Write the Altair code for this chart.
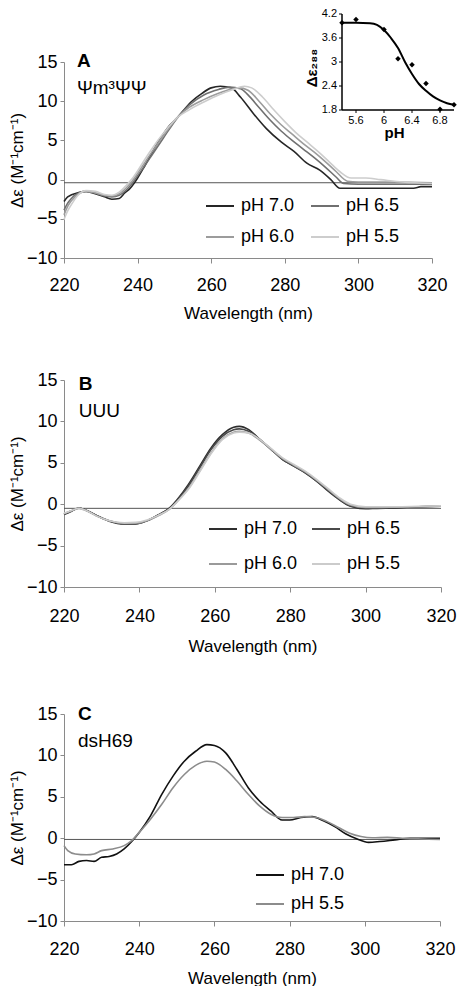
import altair as alt
import pandas as pd

FONT = "Liberation Sans"

# ---------------- Panel A : Ψm3ΨΨ ----------------
A_labels = ["pH 7.0", "pH 6.5", "pH 6.0", "pH 5.5"]
A_colors = ["#262626", "#707070", "#9c9c9c", "#cdcdcd"]

A_70_wl = [220, 221, 224, 226, 228.5, 231, 233, 235, 236.5, 238, 239, 240, 242, 245.5, 248, 251, 254.5, 257.5, 260, 262.5,
           265.5, 268, 271.5, 275, 279, 282.5, 286, 289.5, 292.5, 295, 300, 305, 310, 315, 317, 320]
A_70 = [-2.8, -2.2, -1.65, -1.5, -1.8, -2.2, -2.5, -2.4, -1.7, -1.1, -0.5, 0.2, 1.8, 4.7, 6.5, 8.0, 9.9, 11.0, 11.7, 11.9,
        11.7, 10.5, 8.4, 6.5, 4.8, 3.6, 2.1, 1.2, 0.0, -1.1, -1.1, -1.1, -1.1, -1.1, -0.9, -0.9]

A_65_wl = [220, 221, 222, 224, 226, 228.5, 231, 233, 235, 237, 238.5, 240, 242, 244, 247, 251, 254, 258, 262, 265, 268, 270,
           273, 276, 279, 282, 285, 288, 291, 294, 296, 300, 310, 320]
A_65 = [-3.9, -3.0, -2.4, -1.7, -1.5, -1.7, -2.1, -2.2, -2.0, -1.3, -0.5, 0.5, 1.8, 3.2, 5.3, 8.0, 9.5, 10.8, 11.5, 11.8,
        11.6, 10.8, 9.2, 7.6, 6.2, 5.0, 3.9, 2.8, 1.6, 0.3, -0.5, -0.6, -0.6, -0.6]

A_60_wl = [220, 221, 222, 224, 226, 228.5, 231, 233, 235, 237, 238.5, 240, 242, 244, 247, 251, 254, 258, 262, 265, 267.5,
           270, 273, 276, 279, 282, 285, 288, 291, 294, 297, 300, 310, 320]
A_60 = [-4.5, -3.4, -2.7, -1.8, -1.5, -1.7, -2.0, -2.1, -1.8, -1.0, -0.2, 0.8, 2.2, 3.6, 5.6, 8.0, 9.2, 10.2, 11.0, 11.5,
        11.7, 11.4, 10.0, 8.4, 7.0, 5.8, 4.6, 3.5, 2.3, 1.0, -0.2, -0.3, -0.3, -0.4]

A_55_wl = [220, 221, 222, 224, 226, 228.5, 231, 233, 235, 237, 238.5, 240, 242, 244, 247, 251, 254, 258, 262, 266, 269, 271,
           274, 277, 280, 283, 286, 289, 292, 295, 298, 302, 306, 312, 320]
A_55 = [-5.1, -4.0, -3.2, -1.9, -1.4, -1.5, -1.9, -2.0, -1.6, -0.7, 0.1, 1.1, 2.6, 4.0, 5.9, 8.0, 8.9, 9.9, 10.8, 11.5, 11.9,
        11.7, 10.5, 8.9, 7.4, 6.0, 4.8, 3.6, 2.3, 1.0, 0.2, 0.2, 0.0, -0.3, -0.5]

A_baseline = -0.4

# inset of panel A
inset_ph = [5.4, 5.6, 6.0, 6.2, 6.4, 6.6, 6.8, 7.0]
inset_de = [3.98, 4.06, 3.81, 3.08, 2.93, 2.46, 1.82, 1.93]
fit_ph = [5.4, 5.6, 5.8, 5.9, 6.0, 6.1, 6.2, 6.3, 6.4, 6.5, 6.6, 6.7, 6.8, 6.9, 7.0]
fit_de = [3.98, 3.98, 3.97, 3.93, 3.80, 3.60, 3.35, 3.00, 2.70, 2.45, 2.28, 2.14, 2.04, 1.97, 1.93]
inset_x_ticks = [5.6, 6.0, 6.4, 6.8]
inset_x_labels = ["5.6", "6", "6.4", "6.8"]
inset_y_ticks = [1.8, 2.4, 3.0, 3.6, 4.2]
inset_y_labels = ["1.8", "2.4", "3", "3.6", "4.2"]
inset_x_domain = [5.4, 7.0]
inset_y_domain = [1.8, 4.2]

# ---------------- Panel B : UUU ----------------
B_labels = ["pH 7.0", "pH 6.5", "pH 6.0", "pH 5.5"]
B_colors = ["#2e2e2e", "#4a4a4a", "#9a9a9a", "#cbcbcb"]
B_wl = [220, 222, 224, 226, 229, 232, 236, 239, 242, 245, 248, 250, 253, 256, 259, 262, 265, 266.5, 269, 272, 275, 278,
        281, 284, 287, 290, 293, 296, 300, 303, 308, 314, 320]
B_70 = [-1.25, -0.85, -0.45, -0.75, -1.45, -2.05, -2.4, -2.4, -2.0, -1.3, -0.45, 0.55, 2.4, 4.6, 6.8, 8.4, 9.3, 9.4, 9.0,
        7.8, 6.6, 5.4, 4.6, 3.8, 2.8, 1.6, 0.55, -0.25, -0.55, -0.5, -0.45, -0.3, -0.25]
B_65 = [-1.2, -0.8, -0.45, -0.75, -1.45, -2.0, -2.35, -2.35, -2.0, -1.3, -0.5, 0.45, 2.2, 4.4, 6.6, 8.2, 9.0, 9.1, 8.8,
        7.8, 6.6, 5.4, 4.6, 3.8, 2.8, 1.7, 0.6, -0.2, -0.45, -0.45, -0.4, -0.3, -0.25]
B_60 = [-1.15, -0.8, -0.5, -0.8, -1.5, -2.0, -2.3, -2.3, -2.0, -1.4, -0.6, 0.3, 1.9, 4.0, 6.2, 7.9, 8.7, 8.8, 8.6, 7.7,
        6.6, 5.5, 4.7, 3.9, 2.9, 1.8, 0.7, -0.1, -0.4, -0.4, -0.35, -0.3, -0.2]
B_55 = [-1.1, -0.75, -0.5, -0.8, -1.5, -2.0, -2.25, -2.2, -1.9, -1.35, -0.6, 0.3, 1.8, 3.9, 6.1, 7.8, 8.6, 8.7, 8.6, 7.8,
        6.7, 5.6, 4.8, 4.0, 3.0, 1.9, 0.8, 0.0, -0.3, -0.3, -0.3, -0.25, -0.2]
B_baseline = -0.5

# ---------------- Panel C : dsH69 ----------------
C_labels = ["pH 7.0", "pH 5.5"]
C_colors = ["#111111", "#8c8c8c"]
C_70_wl = [220, 222, 224, 226, 228, 230, 232, 234, 236, 238, 240, 243, 246, 249, 252, 255, 258, 260, 263, 266, 269, 272,
           275, 278, 280, 283, 286, 289, 292, 295, 298, 301, 304, 308, 312, 320]
C_70 = [-3.2, -3.2, -2.8, -2.7, -2.8, -2.3, -2.2, -1.9, -1.3, -0.4, 0.7, 2.7, 5.3, 7.5, 9.3, 10.5, 11.3, 11.2, 10.3, 8.3,
        6.1, 4.5, 3.3, 2.2, 2.2, 2.5, 2.6, 2.1, 1.4, 0.5, -0.1, -0.5, -0.4, -0.2, 0.0, 0.0]
C_55_wl = [220, 221, 223, 226, 228, 230, 233, 236, 238, 240, 243, 246, 249, 252, 255, 258, 260, 263, 266, 269, 272, 275,
           278, 281, 284, 287, 290, 293, 296, 299, 302, 306, 310, 320]
C_55 = [-0.9, -1.5, -1.9, -2.0, -1.9, -1.5, -1.3, -0.9, -0.3, 0.7, 2.3, 4.1, 6.1, 7.7, 8.8, 9.3, 9.2, 8.3, 6.9, 5.3, 3.9,
        2.9, 2.5, 2.5, 2.6, 2.5, 2.0, 1.3, 0.6, 0.2, 0.05, 0.1, 0.0, -0.15]
C_baseline = -0.15

x_ticks = [220, 240, 260, 280, 300, 320]
y_ticks = [-10, -5, 0, 5, 10, 15]


def long_df(labels, wls, vals):
    rows = []
    for lab, w, v in zip(labels, wls, vals):
        for a, b in zip(w, v):
            rows.append({"wl": a, "de": b, "pH": lab})
    return pd.DataFrame(rows)


def panel(df, labels, colors, baseline, letter, name, width, height, min_ext,
          lx, ly, cols, row_pad, col_pad, text_x, letter_y, name_y, lab_pad, title_pad):
    xax = alt.Axis(orient="bottom", values=x_ticks, title="Wavelength (nm)", labelFontSize=18, titleFontSize=17,
                   labelFont=FONT, titleFont=FONT, titleFontWeight="normal", tickSize=5, labelPadding=lab_pad,
                   titlePadding=title_pad, domainColor="#8a8a8a", tickColor="#8a8a8a", labelColor="black",
                   titleColor="black", grid=False, labelFlush=False, labelOverlap=False)
    yax = alt.Axis(orient="left", values=y_ticks, title="Δε (M⁻¹cm⁻¹)", labelFontSize=18, titleFontSize=17,
                   labelFont=FONT, titleFont=FONT, titleFontWeight="normal", tickSize=4, labelPadding=3,
                   titlePadding=0, minExtent=min_ext, domainColor="#8a8a8a", tickColor="#8a8a8a",
                   labelColor="black", titleColor="black", grid=False, labelFlush=False, labelOverlap=False)
    xs = alt.Scale(domain=[220, 320], nice=False)
    ys = alt.Scale(domain=[-10, 15], nice=False)
    legend = alt.Legend(orient="none", legendX=lx, legendY=ly, columns=cols, direction="horizontal", title=None,
                        symbolType="stroke", symbolSize=784, symbolStrokeWidth=2, labelFontSize=18, labelFont=FONT,
                        labelColor="black", rowPadding=row_pad, columnPadding=col_pad, labelOffset=6, padding=0)
    lines = alt.Chart(df).mark_line(strokeWidth=1.6, interpolate="monotone").encode(
        x=alt.X("wl:Q", scale=xs, axis=xax),
        y=alt.Y("de:Q", scale=ys, axis=yax),
        color=alt.Color("pH:N", scale=alt.Scale(domain=labels, range=colors), sort=labels, legend=legend),
    )
    rule = alt.Chart(pd.DataFrame({"b": [baseline]})).mark_rule(color="#555555", strokeWidth=1).encode(
        y=alt.Y("b:Q", scale=ys, axis=yax)
    )
    t1 = alt.Chart(pd.DataFrame({"x": [text_x], "y": [letter_y], "t": [letter]})).mark_text(
        align="left", baseline="alphabetic", fontSize=19, fontWeight="bold", font=FONT, color="black"
    ).encode(x=alt.X("x:Q", scale=xs, axis=xax), y=alt.Y("y:Q", scale=ys, axis=yax), text="t:N")
    t2 = alt.Chart(pd.DataFrame({"x": [text_x], "y": [name_y], "t": [name]})).mark_text(
        align="left", baseline="alphabetic", fontSize=19, font=FONT, color="black"
    ).encode(x=alt.X("x:Q", scale=xs, axis=xax), y=alt.Y("y:Q", scale=ys, axis=yax), text="t:N")
    return alt.layer(rule, lines, t1, t2).properties(width=width, height=height)


dfA = long_df(A_labels, [A_70_wl, A_65_wl, A_60_wl, A_55_wl], [A_70, A_65, A_60, A_55])
dfB = long_df(B_labels, [B_wl] * 4, [B_70, B_65, B_60, B_55])
dfC = long_df(C_labels, [C_70_wl, C_55_wl], [C_70, C_55])

mainA = panel(dfA, A_labels, A_colors, A_baseline, "A", "Ψm³ΨΨ", 368, 196, 0,
              141, 129, 2, 7, 12, 223.5, 14.4, 10.9, 13, 11)

# ---- inset (own scales placed inside panel A; its axes drawn with marks on those scales) ----
ix = alt.Scale(domain=inset_x_domain, range=[278, 390], nice=False, zero=False)
iy = alt.Scale(domain=inset_y_domain, range=[48, -48], nice=False, zero=False)
X0, X1 = inset_x_domain
Y0, Y1 = inset_y_domain

fit = alt.Chart(pd.DataFrame({"ph": fit_ph, "v": fit_de})).mark_line(
    color="black", strokeWidth=2, interpolate="monotone"
).encode(x=alt.X("ph:Q", scale=ix, axis=None), y=alt.Y("v:Q", scale=iy, axis=None))
pts = alt.Chart(pd.DataFrame({"ph": inset_ph, "v": inset_de})).mark_point(
    shape="diamond", filled=True, color="black", size=30, opacity=1
).encode(x=alt.X("ph:Q", scale=ix, axis=None), y=alt.Y("v:Q", scale=iy, axis=None))

base_one = pd.DataFrame({"x0": [X0], "x1": [X1], "y0": [Y0], "y1": [Y1]})
xdom = alt.Chart(base_one).mark_rule(color="black", strokeWidth=1.5).encode(
    x=alt.X("x0:Q", scale=ix, axis=None), x2="x1:Q", y=alt.Y("y0:Q", scale=iy, axis=None))
ydom = alt.Chart(base_one).mark_rule(color="black", strokeWidth=1.5).encode(
    x=alt.X("x0:Q", scale=ix, axis=None), y=alt.Y("y0:Q", scale=iy, axis=None), y2="y1:Q")

ytk_df = pd.DataFrame({"x": [X0] * len(inset_y_ticks), "v": inset_y_ticks, "t": inset_y_labels})
xtk_df = pd.DataFrame({"ph": inset_x_ticks, "y": [Y0] * len(inset_x_ticks), "t": inset_x_labels})
yticks = alt.Chart(ytk_df).mark_rule(color="black", strokeWidth=1, xOffset=-3).encode(
    x=alt.X("x:Q", scale=ix, axis=None), x2="x:Q", y=alt.Y("v:Q", scale=iy, axis=None))
xticks = alt.Chart(xtk_df).mark_rule(color="black", strokeWidth=1, y2Offset=3).encode(
    x=alt.X("ph:Q", scale=ix, axis=None), y=alt.Y("y:Q", scale=iy, axis=None), y2="y:Q")
ylabs = alt.Chart(ytk_df).mark_text(align="right", baseline="middle", dx=-5, fontSize=11, font=FONT,
                                     color="black").encode(
    x=alt.X("x:Q", scale=ix, axis=None), y=alt.Y("v:Q", scale=iy, axis=None), text="t:N")
xlabs = alt.Chart(xtk_df).mark_text(align="center", baseline="top", dy=5, fontSize=11, font=FONT,
                                     color="black").encode(
    x=alt.X("ph:Q", scale=ix, axis=None), y=alt.Y("y:Q", scale=iy, axis=None), text="t:N")
xtitle = alt.Chart(pd.DataFrame({"ph": [6.15], "y": [Y0], "t": ["pH"]})).mark_text(
    align="center", baseline="top", dy=16, fontSize=15, fontWeight="bold", font=FONT, color="black"
).encode(x=alt.X("ph:Q", scale=ix, axis=None), y=alt.Y("y:Q", scale=iy, axis=None), text="t:N")
ytitle = alt.Chart(pd.DataFrame({"x": [X0], "v": [2.85], "t": ["Δε₂₈₈"]})).mark_text(
    align="center", baseline="middle", angle=270, dy=-30, fontSize=15, fontWeight="bold", font=FONT,
    color="black"
).encode(x=alt.X("x:Q", scale=ix, axis=None), y=alt.Y("v:Q", scale=iy, axis=None), text="t:N")

inset = alt.layer(xdom, ydom, yticks, xticks, ylabs, xlabs, xtitle, ytitle, fit, pts)

panelA = alt.layer(mainA, inset).resolve_scale(x="independent", y="independent")

panelB = panel(dfB, B_labels, B_colors, B_baseline, "B", "UUU", 377, 207, 35,
               144, 134, 2, 11, 10, 223.9, 13.8, 10.5, 15, 13)
panelC = panel(dfC, C_labels, C_colors, C_baseline, "C", "dsH69", 376, 207, 36,
               191, 146, 1, 5, 10, 223.7, 14.3, 11.05, 14, 12)

chart = alt.vconcat(panelA, panelB, panelC, spacing=50).resolve_scale(
    color="independent", x="independent", y="independent"
).properties(padding=0).configure_view(stroke=None)

chart.save("out.html", embed_options={"renderer": "svg", "actions": False})
